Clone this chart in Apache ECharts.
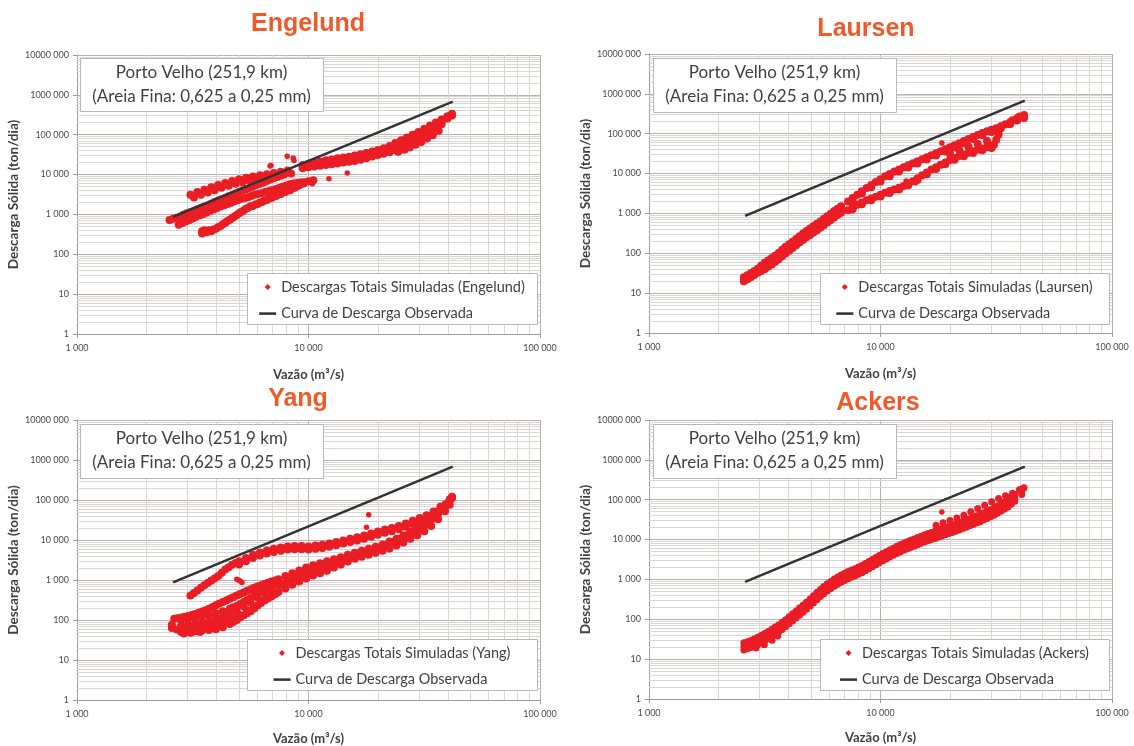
<!DOCTYPE html>
<html>
<head>
<meta charset="utf-8">
<script src="https://cdn.jsdelivr.net/npm/echarts@6/dist/echarts.min.js"></script>
<style>
  html, body { margin: 0; padding: 0; background: #ffffff; }
  #chart { width: 1134px; height: 746px; }
</style>
</head>
<body>
<div id="chart"></div>
<script>
// ---- labels and tick texts ----
const xTickLabels = ['1 000', '10 000', '100 000'];
const yTickLabels = ['1', '10', '100', '1 000', '10 000', '100 000', '1000 000', '10000 000'];
const xMinorGrid = [2000, 3000, 4000, 5000, 6000, 7000, 8000, 9000,
                    20000, 30000, 40000, 50000, 60000, 70000, 80000, 90000];
const yMinorGrid = [2, 3, 4, 5, 6, 7, 8, 9,
                    20, 30, 40, 50, 60, 70, 80, 90,
                    200, 300, 400, 500, 600, 700, 800, 900,
                    2000, 3000, 4000, 5000, 6000, 7000, 8000, 9000,
                    20000, 30000, 40000, 50000, 60000, 70000, 80000, 90000,
                    200000, 300000, 400000, 500000, 600000, 700000, 800000, 900000,
                    2000000, 3000000, 4000000, 5000000, 6000000, 7000000, 8000000, 9000000];
const stationNote = ['Porto Velho (251,9 km)', '(Areia Fina: 0,625 a 0,25 mm)'];
const methodNames = ['Engelund', 'Laursen', 'Yang', 'Ackers'];
const simulatedLabel = 'Descargas Totais Simuladas';
const observedLabel = 'Curva de Descarga Observada';
const xAxisTitle = 'Vazão (m³/s)';
const yAxisTitle = 'Descarga Sólida (ton/dia)';

// ---- observed rating curve [Q m³/s, Qs ton/dia] ----
const observedCurve = [[2600, 870], [5000, 4200], [10000, 22000], [20000, 115000], [42000, 680000]];

// ---- simulated total loads [Q m³/s, Qs ton/dia] ----
const engelundSimulated = [
  [3090,3100],[3310,3630],[3550,4170],[3800,4790],[4070,5500],[4370,6170],[4680,6920],[5010,7590],[5370,8320],[5750,8910],[6170,9550],[6610,10200],[7080,11000],[7590,11700],[8130,12600],
  [3200,2650],[3430,3100],[3670,3550],[3930,4050],[4210,4700],[4520,5250],[4840,5900],[5190,6450],[5560,7050],[5950,7600],[6390,8100],[6840,8700],[7330,9400],[7850,10000],[8410,10700],
  [2510,720],[2690,830],[2880,980],[3090,1150],[3310,1350],[3550,1590],[3800,1860],[4070,2240],[4370,2630],[4680,3090],[5010,3630],[5370,4270],[5750,5010],[6170,5890],[6610,6920],[7080,8130],[7590,9330],
  [2600,780],[2790,890],[2980,1070],[3200,1240],[3430,1480],[3680,1700],[3930,2060],[4220,2400],[4520,2870],[4840,3330],[5190,3960],[5560,4600],[5960,5460],[6390,6350],[6840,7550],[7330,8680],
  [2750,550],[2950,660],[3160,790],[3390,950],[3630,1120],[3890,1320],[4170,1590],[4470,1820],[4790,2140],[5130,2460],[5500,2750],[5890,3160],[6310,3470],[6760,3890],[7240,4370],[7760,5010],[8320,5750],[8910,6170],[9550,6460],
  [2850,610],[3050,715],[3270,870],[3510,1020],[3760,1230],[4030,1440],[4320,1710],[4630,1960],[4960,2310],[5310,2590],[5690,2960],[6100,3290],[6530,3690],[7000,4100],[7500,4700],[8030,5340],[8610,5980],[9220,6290],
  [3470,330],[3470,380],[3630,355],[3800,380],[3980,440],[4170,510],[4370,620],[4570,740],[4790,890],[5010,1070],[5250,1260],[5500,1480],[5750,1620],[6030,1820],[6310,2040],[6610,2290],[6920,2570],[7240,2880],[7590,3240],[7940,3630],[8320,4070],[8710,4680],[9120,5370],[9550,6030],[10000,6760],[10500,7240],
  [3550,400],[3720,400],[3890,420],[4070,480],[4270,570],[4470,680],[4680,810],[4900,970],[5130,1170],[5370,1380],[5620,1600],[5890,1780],[6170,2000],[6460,2240],[6760,2510],[7080,2820],[7410,3160],[7760,3550],[8130,3980],[8510,4470],[8910,5120],[9330,5900],
  [9440,17360],[9440,15850],[9440,14480],
  [10000,18600],[10000,16600],[10000,15160],
  [10590,19930],[10590,17780],[10590,15870],
  [11220,21360],[11220,18620],[11220,16620],
  [11890,22880],[11890,19950],[11890,17410],
  [12590,23960],[12590,20890],[12590,18230],
  [13340,25670],[13340,21880],[13340,19090],
  [14130,26880],[14130,22910],[14130,19990],
  [14960,28150],[14960,24550],[14960,20930],
  [15850,30160],[15850,25700],[15850,21910],
  [16790,32320],[16790,27540],[16790,23480],
  [17780,34630],[17780,29510],[17780,25750],
  [18840,37980],[18840,32360],[18840,28230],
  [19950,41640],[19950,35480],[19950,30960],
  [21130,45660],[21130,38900],[21130,33170],
  [22390,52430],[22390,43650],[22390,36360],
  [23710,61590],[23710,50120],[23710,40800],
  [25120,72370],[25120,56230],[25120,44740],
  [26610,85020],[26610,66070],[26610,51370],
  [28180,99880],[28180,79430],[28180,61760],
  [29850,117400],[29850,91200],[29850,72570],
  [31620,141100],[31620,109600],[31620,85250],
  [33500,169700],[33500,131800],[33500,102500],
  [35480,203900],[35480,158500],[35480,126000],
  [37580,239600],[37580,208900],[37580,182300],
  [39810,290000],[39810,255000],
  [41690,335000],[41690,305000],
  [24400,37500],[26000,42000],[27400,48000],[29000,56000],[30700,66000],[32500,80000],[34400,97000],[36500,125000]
];
const engelundIsolated = [[8090,28700],[6890,16800],[8650,22400],[8590,25900],[6820,16300],[12250,7800],[14700,11000],[10400,5900],[10100,6800],[10300,6300]];

const laursenSimulated = [
  [2570,22.4],[2750,28.2],[2950,36.3],[3160,47.9],[3390,63.1],[3630,85.1],[3890,120],[4170,162],[4470,224],[4790,302],[5130,398],[5500,525],[5890,708],[6310,955],[6760,1259],
  [2570,25.1],[2750,31.6],[2950,40.7],[3160,57.5],[3390,75.9],[3630,102],[3890,145],[4170,195],[4470,269],[4790,363],[5130,479],[5500,631],[5890,851],[6310,1148],[6760,1514],
  [2570,20.0],[2750,25.1],[2950,32.4],[3160,39.8],[3390,52.5],[3630,70.8],[3890,100],[4170,135],[4470,186],[4790,251],[5130,331],[5500,437],[5890,589],[6310,794],[6760,1047],
  [2660,25.1],[2850,32.0],[3050,41.7],[3270,55.0],[3510,73.3],[3760,101],[4030,139],[4320,190],[4630,260],[4960,347],[5310,457],[5690,610],[6100,822],[6530,1096],
  [2660,28.2],[2850,35.9],[3050,48.4],[3270,66.1],[3510,88.0],[3760,122],[4030,168],[4320,229],[4630,312],[4960,417],[5310,550],[5690,733],[6100,988],[6530,1318],
  [2660,22.4],[2850,28.5],[3050,35.9],[3270,45.7],[3510,61.0],[3760,84.1],[4030,116],[4320,158],[4630,216],[4960,288],[5310,380],[5690,507],[6100,684],[6530,912],
  [7240,1995],[7940,2951],[8710,4365],[9550,6166],[10470,8511],[11480,11220],[12590,14450],[13800,18200],[15140,22910],[16600,28840],[18200,36310],[19950,45710],[21880,57540],[23990,74130],[26300,93330],[28840,114800],[31620,138000],[34670,173800],[37150,218800],[39810,269200],[41690,295100],
  [7580,2140],[8310,3160],[9120,4570],[10000,6370],[10960,8600],[12020,11200],[13180,14300],[14450,18000],[15850,22600],[17380,28500],[19050,35900],[20890,45100],[22910,57500],[25120,73200],[27540,91100],[30200,110800],[33110,136300],[36310,171600],[38900,213600],[41690,248000],
  [7580,2430],[8310,3590],[9120,5190],[10000,7240],[10960,9770],[12020,12730],[13180,16220],[14450,20420],[15850,25700],[17380,32360],[19050,40740],[20890,51290],[22910,65310],[25120,83180],[27540,103500],[30200,125900],[33110,154900],[36310,195000],[38900,242700],
  [7240,1202],[7940,1660],[8710,2138],[9550,2630],[10470,3311],[11480,3981],[12590,4898],[13800,6457],[15140,9120],[16600,12590],[18200,16600],[19950,21880],[21880,27540],[23990,33110],[26300,39810],[28840,45710],[30900,52480],[31620,70790],[32360,95500],
  [7580,1270],[8310,1700],[9120,2130],[10000,2660],[10960,3270],[12020,3970],[13180,5060],[14450,6900],[15850,9640],[17380,13000],[19050,17150],[20890,22100],[22910,27200],[25120,32700],[27540,38400],[30200,44100],
  [7580,1413],[8310,1884],[9120,2371],[10000,2951],[10960,3631],[12020,4416],[13180,5624],[14450,7674],[15850,10715],[17380,14457],[19050,19060],[20890,24550],[22910,30200],[25120,36300],[27540,42660],[30200,48980],
  [19950,31600],[21880,39800],[23990,47000],[26300,55000],[28840,66000]
];
const laursenIsolated = [[18400,58700],[13500,6200],[14200,5900],[12900,6500]];

const yangSimulated = [
  [3090,407],[3311,550],[3548,741],[3802,977],[4074,1259],[4365,1820],[4677,2399],[5012,2951],[5370,3548],[5754,4266],[6166,4898],[6607,5495],[7079,6026],[7586,6457],[8128,6918],[8710,7079],[9333,7079],[10000,6918],[10720,7244],[11480,7586],[12300,8128],[13180,8913],[14130,9772],[15140,10720],[16220,11750],[17380,12880],[18620,14450],[19950,16220],[21380,18200],[22910,19950],[24550,22390],[26300,25700],[28180,30200],[30200,35480],[32360,41690],[34670,51290],[37150,67610],
  [3200,470],[3430,640],[3680,850],[3940,1110],[4220,1510],[4520,2090],[4840,2660],
  [5012,2455],[5370,2951],[5754,3548],[6166,4074],[6607,4571],[7079,5012],[7586,5370],[8128,5754],[8710,5888],[9333,5888],[10000,5754],[10720,6026],[11480,6310],[12300,6761],[13180,7413],[14130,8128],[15140,8913],[16220,9772],[17380,10720],[18620,12020],[19950,13490],[21380,15140],[22910,16600],[24550,18620],[26300,21380],[28180,25120],[30200,29510],[32360,35480],[34670,43650],[37150,57540],
  [2570,75.9],[2570,63.1],
  [2818,72.4],[2818,50.1],[2818,100],
  [3020,75.9],[3020,51.3],[3020,105],
  [3236,79.4],[3236,52.5],[3236,112],
  [3467,85.1],[3467,55.0],[3467,120],
  [3715,93.3],[3715,56.2],[3715,132],
  [3981,105],[3981,58.9],[3981,148],
  [4266,117],[4266,66.1],[4266,166],
  [4571,135],[4571,79.4],[4571,191],
  [4898,166],[4898,100],[4898,224],
  [5248,219],[5248,132],[5248,282],
  [5623,275],[5623,166],[5623,355],
  [6026,363],[6026,229],[6026,457],
  [6457,468],[6457,309],[6457,589],
  [6918,575],[6918,389],[6918,724],
  [7413,724],[7413,501],[7413,891],
  [2920,61],[3350,66],[3840,74],[4420,90],[5070,130],[5820,215],[6680,380],
  [2700,58],[3130,63],[3590,70],[4120,82],[4730,110],[5430,175],[6240,300],
  [4730,207],[5070,251],[5430,316],[5820,403],[6240,519],[6680,653],[7170,803],
  [4730,89.1],[5070,115],[5430,148],[5820,195],[6240,266],[6680,347],[7170,441],
  [2900,46],[3100,48],[3400,50],
  [2630,107],[2818,115],[3020,126],[3236,141],[3467,162],[3715,191],[3981,234],[4266,282],[4571,339],[4898,407],[5248,490],[5623,589],[6026,692],[6457,794],[6918,912],[7413,1047],
  [2720,111],[2920,120],[3130,133],[3350,151],[3590,176],[3850,211],[4120,257],[4420,309],[4730,371],[5070,447],[5430,537],[5820,638],[6240,741],[6680,851],[7170,977],
  [7943,1259],[7943,851],[7943,617],
  [8511,1479],[8511,1023],[8511,759],
  [9120,1738],[9120,1230],[9120,912],
  [9772,2042],[9772,1479],[9772,1096],
  [10470,2344],[10470,1698],[10470,1288],
  [11220,2630],[11220,1950],[11220,1479],
  [12020,2951],[12020,2239],[12020,1698],
  [12880,3311],[12880,2570],[12880,2042],
  [13800,3715],[13800,3020],[13800,2455],
  [14790,4266],[14790,3467],[14790,2884],
  [15850,4786],[15850,3981],[15850,3388],
  [16980,5370],[16980,4571],[16980,3802],
  [18200,6026],[18200,5129],[18200,4266],
  [19500,6761],[19500,5888],[19500,4786],
  [20890,7586],[20890,6761],[20890,5370],
  [22390,9120],[22390,8128],[22390,6166],
  [23990,10720],[23990,9772],[23990,7244],
  [25700,12880],[25700,11750],[25700,8710],
  [27540,16220],[27540,14130],[27540,10720],
  [29510,20420],[29510,17380],[29510,13180],
  [31620,26920],[31620,22910],[31620,16600],
  [33880,37150],[33880,31620],[33880,22390],
  [36310,52480],[36310,45710],[36310,33110],
  [38900,75860],[38900,69180],[38900,52480],
  [40740,104700],[40740,95500],[40740,75860],
  [41690,120200],[41690,112000],
  [8222,933],[8810,1122],[9441,1349],[10120,1585],[10840,1820],[11610,2089],[12440,2399],[13330,2786],[14290,3236],[15310,3715],[16400,4266],[17580,4842],[18840,5495],[20180,6310],[21630,7413],[23180,8913],[24830,10720],[26600,12880],[28510,15670],[30550,19950],[32730,26920],[35070,38020],[37580,56230],[39810,81280]
];
const yangIsolated = [[4980,1000],[5160,870],[5070,940],[4900,1050],[18200,42700],[17800,20900]];

const ackersSimulated = [
  [2570,20.9],[2750,24.0],[2950,28.8],[3160,35.5],[3390,45.7],[3630,58.9],[3890,79.4],[4170,112],[4470,155],[4790,219],[5130,316],[5500,457],[5890,631],[6310,832],[6760,1047],[7240,1288],[7760,1514],[8320,1820],[8910,2291],[9550,2884],[10230,3631],[10960,4467],[11750,5495],[12590,6607],[13490,7762],[14450,9120],[15490,10720],[16600,12300],[17780,14130],[19050,16220],[20420,18620],[21880,21380],[23440,25120],[25120,29510],[26920,34670],[28840,41690],[30900,50120],[33110,63100],[35480,79430],[38020,112200],[40740,166000],[41690,199500],
  [2570,25.7],[2750,29.5],[2950,35.5],[3160,43.7],[3390,56.2],[3630,72.4],[3890,97.7],[4170,138],[4470,191],[4790,269],[5130,389],[5500,562],[5890,776],[6310,1023],[6760,1288],[7240,1585],[7760,1862],[8320,2239],[8910,2818],[9550,3548],[10230,4467],[10960,5495],[11750,6761],[12590,8128],[13490,9550],[14450,11220],[15490,13180],[16600,15140],[17780,17380],[19050,19950],[20420,22910],[21880,26300],[23440,30900],[25120,36310],[26920,42660],[28840,51290],[30900,61660],[33110,77620],[35480,97720],[38020,134900],[40740,186200],
  [2570,17.0],[2750,19.5],[2950,23.4],[3160,28.8],[3390,37.2],[3630,47.9],[3890,64.6],[4170,91.2],[4470,126],[4790,178],[5130,257],[5500,372],[5890,513],[6310,676],[6760,851],[7240,1047],[7760,1230],[8320,1479],[8910,1862],[9550,2344],[10230,2951],[10960,3631],[11750,4467],[12590,5370],[13490,6310],[14450,7413],[15490,8710],[16600,10000],[17780,11480],[19050,13180],[20420,15140],[21880,17380],[23440,20420],[25120,23990],[26920,28180],[28840,33880],[30900,40740],[33110,51290],[35480,64570],[38020,91200],[40740,134900],
  [2660,22.4],[2850,26.3],[3050,32.0],[3270,40.3],[3510,51.9],[3760,68.4],[4030,94.3],[4320,132],[4630,184],[4960,263],[5310,380],[5690,537],[6100,725],[6530,933],[7000,1161],[7500,1396],[8030,1660],[8610,2042],[9220,2570],[9880,3236],[10590,4027],[11350,4955],[12160,6026],[13030,7161],[13960,8414],[14960,9888],[16030,11480],[17180,13180],[18400,15140],[19720,17380],[21130,19950],[22650,23170],[24260,27230],[26000,31990],[27860,38020],[29850,45710],[31980,56230],[34270,70790],[36720,94400],
  [2660,27.5],[2850,32.4],[3050,39.4],[3270,49.6],[3510,63.8],[3760,84.1],[4030,116],[4320,162],[4630,227],[4960,323],[5310,468],[5690,660],[6100,891],[6530,1148],[7000,1429],[7500,1718],[8030,2042],[8610,2512],[9220,3162],[9880,3981],[10590,4955],[11350,6095],[12160,7413],[13030,8810],[13960,10350],[14960,12160],[16030,14130],[17180,16220],[18400,18620],[19720,21380],[21130,24550],[22650,28510],[24260,33500],[26000,39360],[27860,46780],[29850,56230],[31980,69180],[34270,87090],[36720,114800],
  [2660,18.2],[2850,21.4],[3050,26.0],[3270,32.7],[3510,42.2],[3760,55.6],[4030,76.8],[4320,107],[4630,150],[4960,214],[5310,309],[5690,437],[6100,589],[6530,758],[7000,944],[7500,1135],[8030,1349],[8610,1660],[9220,2089],[9880,2630],[10590,3273],[11350,4027],[12160,4898],[13030,5821],[13960,6839],[14960,8035],[16030,9333],[17180,10710],[18400,12300],[19720,14130],[21130,16220],[22650,18840],[24260,22130],[26000,26000],[27860,30900],[29850,37150],[31980,45710],[34270,57540],[36720,76740],
  [2900,19],[3150,23],[3400,30],[3600,38],
  [17380,22910],[18620,26300],[19950,30200],[21380,34670],[22910,40740],[24550,50120],[26300,60260],[28180,72440],[30200,89130],[32360,107200],[34670,125900],[37150,144500],[39810,177800]
];
const ackersIsolated = [[18400,49000]];

// ---- drawing ----
const simulatedSets = [engelundSimulated, laursenSimulated, yangSimulated, ackersSimulated];
const isolatedSets = [engelundIsolated, laursenIsolated, yangIsolated, ackersIsolated];

const panelLayout = [
  { grid: { left: 77,  top: 55,  width: 463, height: 279 }, titleX: 308, titleY: 12,  note: [80, 58, 243, 53],  legendBox: [247, 273, 290, 51], xNameGap: 34, yNameGap: 49, dot: 8 },
  { grid: { left: 649, top: 54,  width: 463, height: 279 }, titleX: 866, titleY: 17,  note: [653, 58, 243, 54], legendBox: [820, 273, 289, 51], xNameGap: 34, yNameGap: 49, dot: 8 },
  { grid: { left: 77,  top: 420, width: 463, height: 280 }, titleX: 298, titleY: 387, note: [80, 424, 243, 54], legendBox: [247, 639, 290, 51], xNameGap: 32, yNameGap: 51, dot: 8 },
  { grid: { left: 649, top: 420, width: 463, height: 279 }, titleX: 878, titleY: 391, note: [653, 424, 243, 54], legendBox: [820, 639, 289, 51], xNameGap: 32, yNameGap: 49, dot: 7 }
];

const FONT = 'Lato, "Noto Sans", sans-serif';
const majorGrid = '#b9b0b0';
const minorGrid = '#dcd5d5';
const axisGray = '#a39a9a';
const textGray = '#404040';
const simRed = '#EA1D25';
const obsColor = '#333333';
const legendFontSize = 14.5;
const diamondIcon = 'path://M5,0L10,5L5,10L0,5Z';
const barIcon = 'path://M0,0H20V3H0Z';

function measure(text, font) {
  const ctx = document.createElement('canvas').getContext('2d');
  ctx.font = font;
  return ctx.measureText(text).width;
}

const option = {
  animation: false,
  backgroundColor: '#ffffff',
  textStyle: { fontFamily: FONT },
  title: [], grid: [], xAxis: [], yAxis: [], series: [], legend: [],
  graphic: { elements: [] }
};

panelLayout.forEach((p, i) => {
  const method = methodNames[i];
  const simName = simulatedLabel + ' (' + method + ')';

  option.title.push({
    text: method, left: p.titleX, top: p.titleY, textAlign: 'center', padding: 0,
    textStyle: { fontFamily: '"Liberation Sans", Arial, sans-serif', fontWeight: 'bold', fontSize: 25, color: '#F05A28' }
  });

  option.grid.push(Object.assign({ containLabel: false }, p.grid));

  option.xAxis.push({
    gridIndex: i, type: 'log', logBase: 10, min: 1000, max: 100000,
    name: xAxisTitle, nameLocation: 'middle', nameGap: p.xNameGap,
    nameTextStyle: { fontFamily: FONT, fontWeight: 'bold', fontSize: 13, color: textGray },
    axisLine: { show: true, lineStyle: { color: axisGray, width: 1 } },
    axisTick: { show: true, length: 4, lineStyle: { color: axisGray } },
    axisLabel: {
      fontFamily: FONT, fontSize: 9, color: '#4a4a4a', margin: 10,
      showMinLabel: true, showMaxLabel: true,
      formatter: v => xTickLabels[Math.round(Math.log10(v)) - 3] || ''
    },
    splitLine: { show: true, lineStyle: { color: majorGrid, width: 1 } },
    minorTick: { show: false }, minorSplitLine: { show: false }
  });

  option.yAxis.push({
    gridIndex: i, type: 'log', logBase: 10, min: 1, max: 10000000,
    name: yAxisTitle, nameLocation: 'middle', nameGap: p.yNameGap, nameRotate: 90,
    nameTextStyle: { fontFamily: FONT, fontWeight: 'bold', fontSize: 13.5, color: textGray },
    axisLine: { show: true, lineStyle: { color: axisGray, width: 1 } },
    axisTick: { show: true, length: 4, lineStyle: { color: axisGray } },
    axisLabel: {
      fontFamily: FONT, fontSize: 9, color: '#4a4a4a', margin: 8,
      showMinLabel: true, showMaxLabel: true,
      formatter: v => yTickLabels[Math.round(Math.log10(v))] || ''
    },
    splitLine: { show: true, lineStyle: { color: majorGrid, width: 1 } },
    minorTick: { show: false }, minorSplitLine: { show: false }
  });

  // minor grid lines of the log-log paper
  option.series.push({
    type: 'line', xAxisIndex: i, yAxisIndex: i, data: [], silent: true, z: 1,
    markLine: {
      silent: true, z: 1, symbol: ['none', 'none'], animation: false,
      label: { show: false }, emphasis: { disabled: true },
      lineStyle: { color: minorGrid, width: 1, type: 'solid' },
      data: xMinorGrid.map(v => ({ xAxis: v })).concat(yMinorGrid.map(v => ({ yAxis: v })))
    }
  });

  option.series.push({
    type: 'scatter', name: simName, xAxisIndex: i, yAxisIndex: i, z: 3,
    symbol: 'circle', symbolSize: p.dot,
    itemStyle: { color: simRed, opacity: 1 },
    emphasis: { disabled: true },
    data: simulatedSets[i]
  });

  option.series.push({
    type: 'scatter', name: simName, xAxisIndex: i, yAxisIndex: i, z: 3,
    symbol: 'circle', symbolSize: 5.5,
    itemStyle: { color: simRed, opacity: 1 },
    emphasis: { disabled: true },
    data: isolatedSets[i]
  });

  option.series.push({
    type: 'line', name: observedLabel, xAxisIndex: i, yAxisIndex: i, z: 4,
    symbol: 'none', showSymbol: false,
    itemStyle: { color: obsColor },
    lineStyle: { color: obsColor, width: 2.5 },
    emphasis: { disabled: true },
    data: observedCurve
  });

  // station note box
  const [nx, ny, nw, nh] = p.note;
  option.graphic.elements.push({
    type: 'rect', z: 10, silent: true,
    shape: { x: nx + 0.5, y: ny + 0.5, width: nw, height: nh },
    style: { fill: '#ffffff', stroke: '#b8b8b8', lineWidth: 1 }
  });
  stationNote.forEach((line, k) => {
    option.graphic.elements.push({
      type: 'text', z: 11, silent: true,
      x: nx + nw / 2, y: ny + 15 + k * 24,
      style: { text: line, font: '17px ' + FONT, fill: textGray, textAlign: 'center', textVerticalAlign: 'middle' }
    });
  });

  // legend box with centred entries
  const [lx, ly, lw, lh] = p.legendBox;
  option.graphic.elements.push({
    type: 'rect', z: 10, silent: true,
    shape: { x: lx + 0.5, y: ly + 0.5, width: lw, height: lh },
    style: { fill: '#ffffff', stroke: '#b8b8b8', lineWidth: 1 }
  });
  const legendFont = legendFontSize + 'px ' + FONT;
  const textW = Math.max(measure(simName, legendFont), measure(observedLabel, legendFont));
  const contentW = 17 + 5 + textW;
  option.legend.push({
    orient: 'vertical', z: 12, selectedMode: false, symbolKeepAspect: true,
    left: lx + (lw - contentW) / 2, top: ly + 6, padding: 0,
    itemWidth: 17, itemHeight: 6, itemGap: 10.6,
    textStyle: { fontFamily: FONT, fontSize: legendFontSize, color: textGray, lineHeight: 16 },
    data: [
      { name: simName, icon: diamondIcon, itemStyle: { color: simRed } },
      { name: observedLabel, icon: barIcon, itemStyle: { color: obsColor } }
    ]
  });
});

const chart = echarts.init(document.getElementById('chart'), null, { renderer: 'canvas' });
chart.setOption(option);
</script>
</body>
</html>
